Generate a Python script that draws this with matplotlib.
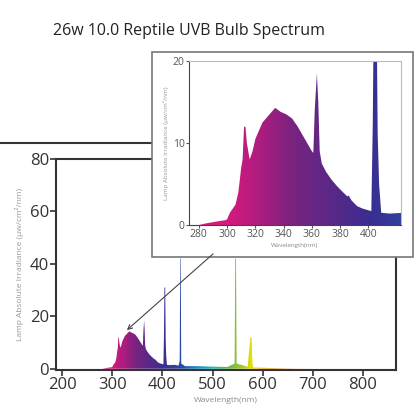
import numpy as np
import matplotlib
matplotlib.use("Agg")
import matplotlib.pyplot as plt
from matplotlib.colors import LinearSegmentedColormap
from matplotlib.patches import Rectangle, FancyArrowPatch
from matplotlib.lines import Line2D

plt.rcParams['font.family'] = ['Open Sans', 'DejaVu Sans']

# spectrum (nm, uW/cm2/nm)
wl = [280, 285, 295, 299, 300, 302, 306, 308, 310, 311, 312, 313, 314, 316, 318, 320, 325, 330, 334,
      338, 342, 346, 350, 355, 360, 361, 362, 363.5, 364.5, 365.5, 367, 370, 374, 378, 382, 385,
      386, 388, 392, 396, 400, 402, 403, 404, 405.5, 406.5, 407.5, 409, 415, 425,
      432, 434.5, 435.5, 436.5, 437.5, 445, 470, 500, 530, 544, 545.2, 546.8, 548, 570, 575.5,
      576.5, 578, 579.5, 581, 600, 630, 660, 700]
irr = [0, 0.2, 0.5, 0.6, 0.7, 1.5, 2.5, 4, 7, 8, 12, 12, 10, 8, 9, 10.5, 12.5, 13.5, 14.3,
       13.8, 13.5, 13, 12, 10.5, 9, 8.8, 14, 18.5, 15, 9, 7.5, 6.5, 5.5, 4.7, 4.0, 3.5,
       3.6, 3.0, 2.3, 2.0, 1.8, 1.7, 12, 31, 31, 11, 5, 1.5, 1.4, 1.5,
       1.2, 3, 42, 42, 2, 1.0, 1.0, 0.8, 0.7, 2, 42, 42, 2, 0.8, 12,
       12, 12, 2, 0.5, 0.4, 0.2, 0.05, 0]

grad_wl = [280, 300, 320, 345, 400, 440, 470, 495, 530, 560, 578, 600, 700]
grad_col = ['#d81b7a', '#d41a7c', '#b21c80', '#7a237f', '#3a2d90', '#2a4ea8', '#1a8ec8', '#1bb0c8',
            '#5fb84a', '#a8c830', '#e6e000', '#f0b020', '#f08020']
cmap = LinearSegmentedColormap.from_list(
    'spec', [((w - 280) / 420, c) for w, c in zip(grad_wl, grad_col)])


def draw_spectrum(ax):
    poly = ax.fill_between(wl, irr, 0, color='none', lw=0)
    grad = np.linspace(0, 1, 1200).reshape(1, -1)
    im = ax.imshow(grad, extent=[280, 700, 0, 50], aspect='auto', cmap=cmap, origin='lower', zorder=1)
    im.set_clip_path(poly.get_paths()[0], transform=ax.transData)


fig = plt.figure(figsize=(4.16, 4.16), dpi=100)

ax = fig.add_axes([0.135, 0.111, 0.817, 0.507])
draw_spectrum(ax)
ax.set_xlim(188, 866)
ax.set_ylim(-0.4, 80)
ax.set_xticks([200, 300, 400, 500, 600, 700, 800])
ax.set_yticks([0, 20, 40, 60, 80])
ax.tick_params(labelsize=12, colors='#333333', length=4, width=1.2, pad=1)
for s in ax.spines.values():
    s.set_color('#333333')
    s.set_linewidth(1.5)
ax.set_xlabel('Wavelength(nm)', fontsize=6, color='#888888', labelpad=3)
ax.set_ylabel('Lamp Absolute Irradiance (\u03bcw/cm\u00b2/nm)', fontsize=6, color='#999999', labelpad=4)

fig.add_artist(Line2D([0, 0.366], [0.656, 0.656], color='#333333', lw=1.5))

box = Rectangle((0.366, 0.383), 0.627, 0.492, transform=fig.transFigure,
                facecolor='white', edgecolor='#777777', lw=1.2, zorder=2)
fig.add_artist(box)

ins = fig.add_axes([0.454, 0.459, 0.510, 0.394], zorder=3)
draw_spectrum(ins)
ins.set_xlim(273, 423)
ins.set_ylim(0, 20)
ins.set_xticks([280, 300, 320, 340, 360, 380, 400])
ins.set_yticks([0, 10, 20])
ins.tick_params(labelsize=7.5, colors='#555555', length=2, pad=1)
ins.spines['left'].set_color('#444444')
ins.spines['bottom'].set_color('#444444')
ins.spines['top'].set_color('#bbbbbb')
ins.spines['right'].set_color('#bbbbbb')
ins.set_xlabel('Wavelength(nm)', fontsize=4.5, color='#888888', labelpad=2)
ins.set_ylabel('Lamp Absolute Irradiance (\u03bcw/cm\u00b2/nm)', fontsize=4.5, color='#999999', labelpad=3)

arrow = FancyArrowPatch((0.517, 0.394), (0.300, 0.202), transform=fig.transFigure,
                        arrowstyle='->', mutation_scale=8, color='#444444', lw=0.8, zorder=4)
fig.add_artist(arrow)

fig.text(0.455, 0.925, '26w 10.0 Reptile UVB Bulb Spectrum', ha='center', va='center',
         fontsize=11.5, color='#222222')

fig.savefig('out.png', dpi=100)
